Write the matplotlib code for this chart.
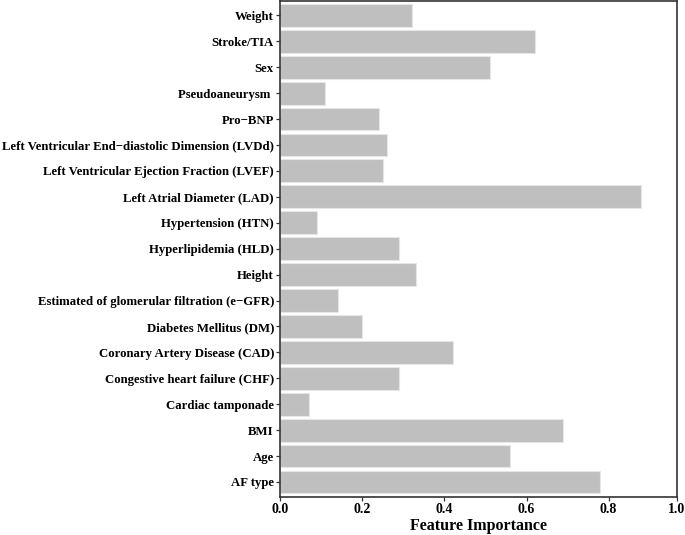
import matplotlib
matplotlib.use("Agg")
import matplotlib.pyplot as plt

# features, bottom to top
features = ["AF type", "Age", "BMI", "Cardiac tamponade",
            "Congestive heart failure (CHF)", "Coronary Artery Disease (CAD)",
            "Diabetes Mellitus (DM)", "Estimated of glomerular filtration (e\u2212GFR)",
            "Height", "Hyperlipidemia (HLD)", "Hypertension (HTN)",
            "Left Atrial Diameter (LAD)", "Left Ventricular Ejection Fraction (LVEF)",
            "Left Ventricular End\u2212diastolic Dimension (LVDd)", "Pro\u2212BNP",
            "Pseudoaneurysm ", "Sex", "Stroke/TIA", "Weight"]
importance = [0.78, 0.56, 0.69, 0.07, 0.29, 0.42, 0.20, 0.14, 0.33, 0.29,
              0.09, 0.88, 0.25, 0.26, 0.24, 0.11, 0.51, 0.62, 0.32]
xticks = [0.0, 0.2, 0.4, 0.6, 0.8, 1.0]

plt.rcParams["font.family"] = ["Liberation Serif", "DejaVu Serif"]
plt.rcParams["font.weight"] = "bold"

fig = plt.figure(figsize=(6.85, 5.35), dpi=100)
ax = fig.add_axes([0.409, 0.071, 0.579, 0.927])

ypos = list(range(len(features)))
ax.barh(ypos, importance, height=0.88, color="#bfbfbf",
        edgecolor="#e6e6e6", linewidth=0.8)

ax.set_yticks(ypos)
ax.set_yticklabels(features, fontsize=9.2, fontweight="bold")
ax.set_ylim(-0.58, len(features) - 0.45)

# the right edge of the original sits short of 1.0 but is labelled 1.0
xmax = 0.966
ax.set_xlim(0, xmax)
ax.set_xticks(xticks[:-1] + [xmax])
ax.set_xticklabels(["%.1f" % t for t in xticks], fontsize=10, fontweight="bold")
ax.set_xlabel("Feature Importance", fontsize=11.5, fontweight="bold", labelpad=1)

for s in ax.spines.values():
    s.set_color("#333333")
    s.set_linewidth(1.2)
ax.tick_params(length=3, width=0.9, color="#333333", pad=1.5)

fig.savefig("out.png", dpi=100)
